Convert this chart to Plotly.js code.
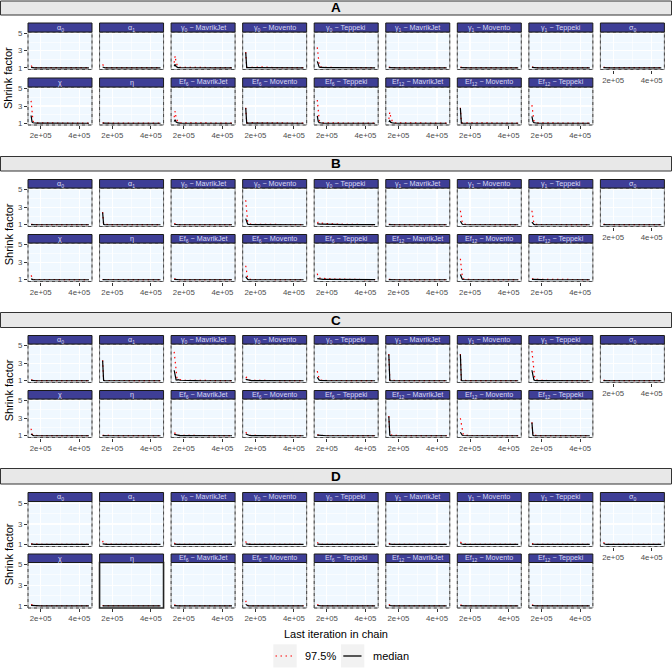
<!DOCTYPE html>
<html><head><meta charset="utf-8">
<script src="https://cdn.plot.ly/plotly-3.0.1.min.js"></script>
<style>html,body{margin:0;padding:0;background:#fff}</style>
</head><body><div id="chart" style="width:672px;height:672px"></div>
<script>
// ---------------- DATA ----------------
const iterations = [150000,155000,160000,165000,170000,180000,200000,230000,260000,290000,320000,350000,380000,410000,450000];
const panelLabels = ['α<sub>0</sub>','α<sub>1</sub>','γ<sub>0</sub> − MavrikJet','γ<sub>0</sub> − Movento','γ<sub>0</sub> − Teppeki',
  'γ<sub>1</sub> − MavrikJet','γ<sub>1</sub> − Movento','γ<sub>1</sub> − Teppeki','σ<sub>0</sub>',
  'χ','η','Ef<sub>6</sub> − MavrikJet','Ef<sub>6</sub> − Movento','Ef<sub>6</sub> − Teppeki',
  'Ef<sub>12</sub> − MavrikJet','Ef<sub>12</sub> − Movento','Ef<sub>12</sub> − Teppeki'];
const sectionLabels = ['A','B','C','D'];
const seriesNames = ['97.5%','median'];
const yTickValues = [1,3,5];
const xTickValues = [200000,400000];
const xTickLabels = ['2e+05','4e+05'];

const A_median = [
 [1.05,1.02,1.01,1,1,1,1,1,1,1,1,1,1,1,1],
 [1.1,1.03,1.01,1,1,1,1,1,1,1,1,1,1,1,1],
 [1.2,1.4,1.15,1.05,1.03,1.02,1.01,1.01,1,1,1,1,1,1,1],
 [2.8,1.02,1.01,1.01,1,1,1,1,1,1,1,1,1,1,1],
 [1.75,1.2,1.08,1.04,1.03,1.02,1.01,1.01,1,1,1,1,1,1,1],
 [1.02,1.01,1,1,1,1,1,1,1,1,1,1,1,1,1],
 [1.02,1.01,1,1,1,1,1,1,1,1,1,1,1,1,1],
 [1.04,1.02,1.01,1,1,1,1,1,1,1,1,1,1,1,1],
 [1.01,1,1,1,1,1,1,1,1,1,1,1,1,1,1],
 [1.9,1.15,1.06,1.03,1.02,1.01,1.01,1,1,1,1,1,1,1,1],
 [1.01,1,1,1,1,1,1,1,1,1,1,1,1,1,1],
 [1.2,1.4,1.15,1.06,1.04,1.02,1.01,1.01,1,1,1,1,1,1,1],
 [2.75,1.02,1.01,1.01,1,1,1,1,1,1,1,1,1,1,1],
 [1.85,1.2,1.08,1.04,1.03,1.02,1.01,1.01,1,1,1,1,1,1,1],
 [1.15,1.3,1.1,1.05,1.03,1.02,1.01,1.01,1,1,1,1,1,1,1],
 [2.75,1.02,1.01,1.01,1,1,1,1,1,1,1,1,1,1,1],
 [1.8,1.2,1.08,1.04,1.03,1.02,1.01,1.01,1,1,1,1,1,1,1]
];
const A_upper = [
 [1.25,1.08,1.04,1.03,1.03,1.02,1.02,1.02,1.02,1.02,1.02,1.02,1.02,1.03,1.02],
 [1.4,1.1,1.05,1.03,1.03,1.02,1.02,1.02,1.02,1.02,1.02,1.02,1.02,1.02,1.02],
 [1.6,2.4,1.6,1.2,1.1,1.06,1.05,1.04,1.03,1.03,1.02,1.02,1.02,1.02,1.02],
 [2.85,1.06,1.05,1.04,1.04,1.1,1.05,1.1,1.04,1.03,1.03,1.02,1.02,1.02,1.02],
 [3.4,2.1,1.3,1.12,1.08,1.05,1.04,1.03,1.03,1.03,1.02,1.02,1.02,1.02,1.02],
 [1.08,1.04,1.03,1.02,1.02,1.02,1.02,1.02,1.02,1.02,1.02,1.02,1.02,1.02,1.02],
 [1.08,1.04,1.03,1.02,1.02,1.02,1.02,1.02,1.02,1.02,1.02,1.02,1.02,1.02,1.02],
 [1.1,1.05,1.03,1.02,1.02,1.02,1.02,1.02,1.02,1.02,1.02,1.02,1.02,1.02,1.02],
 [1.05,1.03,1.03,1.02,1.02,1.02,1.02,1.02,1.02,1.02,1.02,1.02,1.02,1.02,1.02],
 [3.6,2.1,1.25,1.1,1.07,1.05,1.04,1.03,1.03,1.02,1.02,1.02,1.02,1.02,1.02],
 [1.05,1.03,1.03,1.02,1.02,1.02,1.02,1.02,1.02,1.02,1.02,1.02,1.02,1.02,1.02],
 [1.7,2.4,1.6,1.2,1.1,1.06,1.05,1.05,1.03,1.03,1.02,1.02,1.02,1.02,1.02],
 [2.8,1.06,1.05,1.04,1.04,1.08,1.06,1.05,1.04,1.03,1.03,1.02,1.02,1.02,1.02],
 [3.7,2.3,1.35,1.12,1.08,1.05,1.04,1.03,1.03,1.02,1.02,1.02,1.02,1.02,1.02],
 [1.5,2.3,1.7,1.2,1.1,1.06,1.05,1.04,1.03,1.03,1.02,1.02,1.02,1.02,1.02],
 [2.8,1.06,1.05,1.05,1.04,1.05,1.07,1.05,1.04,1.03,1.03,1.02,1.02,1.02,1.02],
 [3.1,1.8,1.3,1.12,1.08,1.05,1.04,1.03,1.03,1.02,1.02,1.02,1.02,1.02,1.02]
];
const B_median = [
 [1.01,1,1,1,1,1,1,1,1,1,1,1,1,1,1],
 [2.4,1.05,1.01,1,1,1,1,1,1,1,1,1,1,1,1],
 [1.06,1.03,1.02,1.01,1,1,1,1,1,1,1,1,1,1,1],
 [1.7,1.2,1.07,1.04,1.03,1.02,1.01,1.01,1,1,1,1,1,1,1],
 [1.1,1.12,1.1,1.08,1.06,1.05,1.04,1.03,1.02,1.02,1.01,1.01,1.01,1.01,1.01],
 [1.01,1,1,1,1,1,1,1,1,1,1,1,1,1,1],
 [1.4,1.12,1.05,1.03,1.02,1.01,1,1,1,1,1,1,1,1,1],
 [1.3,1.1,1.04,1.02,1.01,1,1,1,1,1,1,1,1,1,1],
 [1.01,1,1,1,1,1,1,1,1,1,1,1,1,1,1],
 [1.1,1.03,1.01,1,1,1,1,1,1,1,1,1,1,1,1],
 [1.01,1,1,1,1,1,1,1,1,1,1,1,1,1,1],
 [1.05,1.03,1.02,1.01,1,1,1,1,1,1,1,1,1,1,1],
 [1.35,1.1,1.04,1.02,1.01,1,1,1,1,1,1,1,1,1,1],
 [1.12,1.1,1.08,1.07,1.06,1.05,1.04,1.03,1.02,1.02,1.01,1.01,1.01,1.01,1.01],
 [1.01,1,1,1,1,1,1,1,1,1,1,1,1,1,1],
 [1.6,1.15,1.06,1.03,1.02,1.01,1,1,1,1,1,1,1,1,1],
 [1.05,1.04,1.03,1.02,1.02,1.01,1.01,1,1,1,1,1,1,1,1]
];
const B_upper = [
 [1.05,1.03,1.03,1.02,1.02,1.02,1.02,1.02,1.02,1.02,1.02,1.02,1.02,1.02,1.02],
 [2.45,1.08,1.04,1.03,1.02,1.02,1.02,1.02,1.02,1.02,1.02,1.02,1.02,1.02,1.02],
 [1.12,1.06,1.04,1.03,1.02,1.02,1.02,1.02,1.02,1.02,1.02,1.02,1.02,1.02,1.02],
 [3.8,2.4,1.3,1.12,1.08,1.05,1.04,1.03,1.03,1.02,1.02,1.02,1.02,1.02,1.02],
 [1.15,1.28,1.25,1.2,1.22,1.15,1.12,1.08,1.06,1.05,1.04,1.03,1.03,1.02,1.02],
 [1.05,1.03,1.03,1.02,1.02,1.02,1.02,1.02,1.02,1.02,1.02,1.02,1.02,1.02,1.02],
 [2.6,1.8,1.2,1.08,1.05,1.04,1.03,1.03,1.02,1.02,1.02,1.02,1.02,1.02,1.02],
 [2.6,1.7,1.15,1.06,1.04,1.03,1.03,1.02,1.02,1.02,1.02,1.02,1.02,1.02,1.02],
 [1.04,1.03,1.03,1.02,1.02,1.02,1.02,1.02,1.02,1.02,1.02,1.02,1.02,1.02,1.02],
 [1.5,1.15,1.05,1.03,1.03,1.02,1.02,1.02,1.02,1.02,1.02,1.02,1.02,1.02,1.02],
 [1.03,1.03,1.02,1.02,1.02,1.02,1.02,1.02,1.02,1.02,1.02,1.02,1.02,1.02,1.02],
 [1.1,1.05,1.04,1.03,1.02,1.02,1.02,1.02,1.02,1.02,1.02,1.02,1.02,1.02,1.02],
 [2.6,1.7,1.15,1.06,1.04,1.03,1.03,1.02,1.02,1.02,1.02,1.02,1.02,1.02,1.02],
 [1.7,1.25,1.2,1.18,1.2,1.15,1.12,1.08,1.06,1.05,1.04,1.03,1.03,1.02,1.02],
 [1.04,1.03,1.03,1.02,1.02,1.02,1.02,1.02,1.02,1.02,1.02,1.02,1.02,1.02,1.02],
 [3.4,2.2,1.3,1.1,1.06,1.04,1.03,1.03,1.02,1.02,1.02,1.02,1.02,1.02,1.02],
 [1.1,1.15,1.12,1.1,1.08,1.06,1.05,1.04,1.03,1.03,1.02,1.02,1.02,1.02,1.02]
];
const C_median = [
 [1.04,1.02,1.01,1,1,1,1,1,1,1,1,1,1,1,1],
 [3.3,1.03,1.01,1,1,1,1,1,1,1,1,1,1,1,1],
 [2.2,1.3,1.1,1.08,1.12,1.06,1.03,1.02,1.01,1,1,1,1,1,1],
 [1.15,1.12,1.08,1.05,1.03,1.02,1.01,1,1,1,1,1,1,1,1],
 [1.4,1.15,1.07,1.04,1.03,1.02,1.01,1,1,1,1,1,1,1,1],
 [4.0,1.03,1.01,1,1,1,1,1,1,1,1,1,1,1,1],
 [4.0,1.03,1.01,1,1,1,1,1,1,1,1,1,1,1,1],
 [2.2,1.3,1.1,1.05,1.03,1.02,1.01,1,1,1,1,1,1,1,1],
 [1.01,1,1,1,1,1,1,1,1,1,1,1,1,1,1],
 [1.2,1.06,1.03,1.02,1.01,1,1,1,1,1,1,1,1,1,1],
 [1.01,1,1,1,1,1,1,1,1,1,1,1,1,1,1],
 [1.15,1.12,1.08,1.05,1.03,1.02,1.01,1,1,1,1,1,1,1,1],
 [1.2,1.15,1.08,1.05,1.03,1.02,1.01,1,1,1,1,1,1,1,1],
 [1.06,1.05,1.04,1.03,1.02,1.01,1,1,1,1,1,1,1,1,1],
 [3.2,1.05,1.02,1.01,1,1,1,1,1,1,1,1,1,1,1],
 [1.4,1.12,1.05,1.03,1.02,1.01,1,1,1,1,1,1,1,1,1],
 [2.5,1.05,1.02,1.01,1,1,1,1,1,1,1,1,1,1,1]
];
const C_upper = [
 [1.1,1.05,1.03,1.03,1.02,1.02,1.02,1.02,1.02,1.02,1.02,1.02,1.02,1.02,1.02],
 [3.35,1.06,1.03,1.03,1.02,1.02,1.02,1.02,1.02,1.02,1.02,1.02,1.02,1.02,1.02],
 [4.3,3.0,1.5,1.2,1.22,1.12,1.06,1.04,1.03,1.02,1.02,1.02,1.02,1.02,1.02],
 [1.3,1.4,1.2,1.1,1.06,1.04,1.03,1.03,1.02,1.02,1.02,1.02,1.02,1.02,1.02],
 [2.1,1.5,1.2,1.1,1.06,1.04,1.03,1.03,1.02,1.02,1.02,1.02,1.02,1.02,1.02],
 [4.05,1.06,1.04,1.03,1.02,1.02,1.02,1.02,1.02,1.02,1.02,1.02,1.02,1.02,1.02],
 [4.05,1.06,1.04,1.03,1.02,1.02,1.02,1.02,1.02,1.02,1.02,1.02,1.02,1.02,1.02],
 [4.4,3.0,1.6,1.2,1.1,1.06,1.04,1.03,1.03,1.02,1.02,1.02,1.02,1.02,1.02],
 [1.04,1.03,1.03,1.02,1.02,1.02,1.02,1.02,1.02,1.02,1.02,1.02,1.02,1.02,1.02],
 [1.8,1.2,1.08,1.05,1.03,1.03,1.02,1.02,1.02,1.02,1.02,1.02,1.02,1.02,1.02],
 [1.05,1.04,1.05,1.03,1.04,1.05,1.03,1.02,1.02,1.02,1.02,1.02,1.02,1.02,1.02],
 [1.3,1.3,1.15,1.08,1.05,1.04,1.03,1.03,1.02,1.02,1.02,1.02,1.02,1.02,1.02],
 [1.4,1.3,1.12,1.06,1.04,1.03,1.03,1.02,1.02,1.02,1.02,1.02,1.02,1.02,1.02],
 [1.1,1.08,1.06,1.05,1.04,1.03,1.03,1.02,1.02,1.02,1.02,1.02,1.02,1.02,1.02],
 [3.25,1.08,1.05,1.1,1.04,1.03,1.03,1.02,1.02,1.02,1.02,1.02,1.02,1.02,1.02],
 [3.0,2.2,1.4,1.12,1.06,1.04,1.03,1.03,1.02,1.02,1.02,1.02,1.02,1.02,1.02],
 [2.55,1.08,1.04,1.03,1.02,1.02,1.02,1.02,1.02,1.02,1.02,1.02,1.02,1.02,1.02]
];
const D_median = [
 [1.03,1.01,1,1,1,1,1,1,1,1,1,1,1,1,1],
 [1.05,1.02,1.01,1,1,1,1,1,1,1,1,1,1,1,1],
 [1.04,1.02,1.01,1,1,1,1,1,1,1,1,1,1,1,1],
 [1.05,1.02,1.01,1,1,1,1,1,1,1,1,1,1,1,1],
 [1.04,1.02,1.01,1,1,1,1,1,1,1,1,1,1,1,1],
 [1.03,1.01,1,1,1,1,1,1,1,1,1,1,1,1,1],
 [1.1,1.04,1.02,1.01,1,1,1,1,1,1,1,1,1,1,1],
 [1.02,1.01,1,1,1,1,1,1,1,1,1,1,1,1,1],
 [1.1,1.04,1.02,1.01,1,1,1,1,1,1,1,1,1,1,1],
 [1.05,1.04,1.03,1.02,1.01,1,1,1,1,1,1,1,1,1,1],
 [1.01,1,1,1,1,1,1,1,1,1,1,1,1,1,1],
 [1.03,1.01,1,1,1,1,1,1,1,1,1,1,1,1,1],
 [1.15,1.04,1.02,1.01,1,1,1,1,1,1,1,1,1,1,1],
 [1.04,1.02,1.01,1,1,1,1,1,1,1,1,1,1,1,1],
 [1.04,1.02,1.01,1,1,1,1,1,1,1,1,1,1,1,1],
 [1.03,1.01,1,1,1,1,1,1,1,1,1,1,1,1,1],
 [1.04,1.02,1.01,1,1,1,1,1,1,1,1,1,1,1,1]
];
const D_upper = [
 [1.06,1.05,1.06,1.03,1.02,1.02,1.02,1.02,1.02,1.02,1.02,1.02,1.02,1.02,1.02],
 [1.35,1.08,1.04,1.03,1.02,1.02,1.02,1.02,1.02,1.02,1.02,1.02,1.02,1.02,1.02],
 [1.15,1.05,1.03,1.02,1.02,1.02,1.02,1.02,1.02,1.02,1.02,1.03,1.03,1.02,1.02],
 [1.3,1.06,1.03,1.02,1.02,1.02,1.02,1.02,1.02,1.02,1.02,1.02,1.02,1.02,1.02],
 [1.2,1.05,1.03,1.02,1.02,1.02,1.02,1.02,1.02,1.02,1.02,1.02,1.02,1.02,1.02],
 [1.1,1.04,1.03,1.02,1.02,1.02,1.02,1.02,1.02,1.02,1.02,1.02,1.02,1.02,1.02],
 [1.25,1.1,1.05,1.03,1.02,1.02,1.02,1.02,1.02,1.02,1.02,1.02,1.02,1.02,1.02],
 [1.08,1.04,1.03,1.02,1.02,1.02,1.02,1.02,1.02,1.02,1.02,1.02,1.02,1.02,1.02],
 [1.2,1.06,1.03,1.02,1.02,1.02,1.02,1.02,1.02,1.02,1.02,1.02,1.02,1.02,1.02],
 [1.12,1.1,1.08,1.05,1.03,1.02,1.02,1.02,1.02,1.02,1.02,1.02,1.02,1.02,1.02],
 [1.04,1.03,1.03,1.02,1.02,1.02,1.02,1.03,1.02,1.02,1.02,1.02,1.02,1.02,1.02],
 [1.1,1.04,1.03,1.02,1.02,1.02,1.02,1.02,1.02,1.03,1.02,1.02,1.02,1.02,1.02],
 [1.5,1.12,1.05,1.03,1.02,1.02,1.02,1.02,1.02,1.02,1.02,1.02,1.02,1.02,1.02],
 [1.15,1.05,1.03,1.02,1.02,1.02,1.02,1.02,1.02,1.02,1.02,1.02,1.02,1.02,1.02],
 [1.15,1.05,1.03,1.02,1.02,1.02,1.02,1.02,1.02,1.02,1.02,1.02,1.02,1.02,1.02],
 [1.1,1.04,1.03,1.02,1.02,1.02,1.02,1.02,1.02,1.02,1.02,1.02,1.02,1.02,1.02],
 [1.12,1.05,1.03,1.02,1.02,1.02,1.02,1.02,1.02,1.02,1.02,1.02,1.02,1.02,1.02]
];

// ---------------- LAYOUT GEOMETRY ----------------
const W = 672, H = 672;
const px = v => v / W;
const py = v => 1 - v / H;
const FONT = 'Liberation Sans, Arial, sans-serif';
const sections = [
  {label: sectionLabels[0], median: A_median, upper: A_upper, header: [1, 15],    rows: [[23, 32, 69.5], [78, 87, 125]]},
  {label: sectionLabels[1], median: B_median, upper: B_upper, header: [156.5, 171], rows: [[179.5, 188, 226.5], [234.5, 243, 281.5]]},
  {label: sectionLabels[2], median: C_median, upper: C_upper, header: [312.5, 327.5], rows: [[335.5, 344, 382.5], [390.5, 399, 437.5]]},
  {label: sectionLabels[3], median: D_median, upper: D_upper, header: [468.5, 484], rows: [[492.5, 501.5, 546.5], [554, 562.5, 608]]}
];

const traces = [], shapes = [], annotations = [];
const layout = {
  width: W, height: H, margin: {l: 0, r: 0, t: 0, b: 0},
  paper_bgcolor: '#ffffff', plot_bgcolor: '#F0F8FF',
  showlegend: false, font: {family: FONT, color: '#000'}
};

let n = 0;
sections.forEach((s, si) => {
  shapes.push({type: 'rect', xref: 'paper', yref: 'paper', x0: px(0.5), x1: px(671.5),
    y0: py(s.header[1]), y1: py(s.header[0]), fillcolor: '#E8E8E8', line: {color: '#333333', width: 1}, layer: 'below'});
  annotations.push({text: '<b>' + s.label + '</b>', xref: 'paper', yref: 'paper', x: px(336),
    y: py((s.header[0] + s.header[1]) / 2), showarrow: false, xanchor: 'center', yanchor: 'middle',
    font: {size: 13.5, color: '#000', family: FONT}});
  annotations.push({text: 'Shrink factor', xref: 'paper', yref: 'paper', x: px(8.5),
    y: py((s.rows[0][1] + s.rows[1][2]) / 2), textangle: -90, showarrow: false,
    xanchor: 'center', yanchor: 'middle', font: {size: 11, color: '#000', family: FONT}});

  panelLabels.forEach((lab, p) => {
    n++;
    const row = p < 9 ? 0 : 1;
    const col = p < 9 ? p : p - 9;
    const left = 28 + col * 71.55, right = left + 64;
    const [st, pt, pb] = s.rows[row];
    const xk = n === 1 ? 'x' : 'x' + n, yk = n === 1 ? 'y' : 'y' + n;
    const xKey = n === 1 ? 'xaxis' : 'xaxis' + n, yKey = n === 1 ? 'yaxis' : 'yaxis' + n;
    const showX = (row === 1) || (col === 8);
    const showY = col === 0;
    layout[xKey] = {
      domain: [px(left), px(right)], anchor: yk, range: [134000, 466000],
      tickmode: 'array', tickvals: xTickValues, ticktext: xTickLabels,
      showticklabels: showX, ticks: showX ? 'outside' : '', ticklen: 3, tickwidth: 1, tickcolor: '#333333',
      tickfont: {size: 7.8, color: '#4D4D4D', family: FONT},
      showgrid: true, gridcolor: '#ffffff', gridwidth: 1.1, zeroline: false, showline: false,
      minor: {tickmode: 'array', tickvals: [300000], showgrid: true, gridcolor: '#ffffff', gridwidth: 0.6, ticks: ''},
      fixedrange: true
    };
    layout[yKey] = {
      domain: [py(pb), py(pt)], anchor: xk, range: [0.8, 5.2],
      tickmode: 'array', tickvals: yTickValues, ticktext: yTickValues.map(String),
      showticklabels: showY, ticks: showY ? 'outside' : '', ticklen: 3, tickwidth: 1, tickcolor: '#333333',
      tickfont: {size: 7.8, color: '#4D4D4D', family: FONT},
      showgrid: true, gridcolor: '#ffffff', gridwidth: 1.1, zeroline: false, showline: false,
      minor: {tickmode: 'array', tickvals: [2, 4], showgrid: true, gridcolor: '#ffffff', gridwidth: 0.6, ticks: ''},
      fixedrange: true
    };
    // 97.5% (drawn first) and median (on top)
    traces.push({type: 'scatter', mode: 'lines', x: iterations, y: s.upper[p], xaxis: xk, yaxis: yk,
      name: seriesNames[0], line: {color: '#FF0000', width: 1.2, dash: '1.5px,3.5px'}, hoverinfo: 'skip'});
    traces.push({type: 'scatter', mode: 'lines', x: iterations, y: s.median[p], xaxis: xk, yaxis: yk,
      name: seriesNames[1], line: {color: '#000000', width: 1.2}, hoverinfo: 'skip'});
    // panel border
    const darkBorder = (si === 3 && p === 10);
    shapes.push({type: 'rect', xref: 'paper', yref: 'paper', x0: px(left), x1: px(right), y0: py(pb), y1: py(pt),
      line: {color: darkBorder ? '#222222' : '#9a9a9a', width: darkBorder ? 1.6 : 1}, fillcolor: 'rgba(0,0,0,0)', layer: 'above'});
    if (!darkBorder) {
      shapes.push({type: 'rect', xref: 'paper', yref: 'paper', x0: px(left), x1: px(right), y0: py(pb), y1: py(pt),
        line: {color: '#4a4a4a', width: 1, dash: '3px,3px'}, fillcolor: 'rgba(0,0,0,0)', layer: 'above'});
    }
    // strip
    shapes.push({type: 'rect', xref: 'paper', yref: 'paper', x0: px(left), x1: px(right), y0: py(pt), y1: py(st),
      fillcolor: '#3E3E96', line: {color: '#1a1a1a', width: 1}, layer: 'above'});
    annotations.push({text: lab, xref: 'paper', yref: 'paper', x: px((left + right) / 2), y: py((st + pt) / 2),
      showarrow: false, xanchor: 'center', yanchor: 'middle', font: {size: 7.2, color: '#D9D9F3', family: FONT}});
  });
});

// x-axis title
annotations.push({text: 'Last iteration in chain', xref: 'paper', yref: 'paper', x: px(336), y: py(633.5),
  showarrow: false, xanchor: 'center', yanchor: 'middle', font: {size: 11, color: '#000', family: FONT}});
// legend (keys)
shapes.push({type: 'rect', xref: 'paper', yref: 'paper', x0: px(273.3), x1: px(296.7), y0: py(667.5), y1: py(644.3),
  fillcolor: '#F2F2F2', line: {width: 0}});
shapes.push({type: 'line', xref: 'paper', yref: 'paper', x0: px(275.5), x1: px(295), y0: py(656), y1: py(656),
  line: {color: '#FF0000', width: 1.2, dash: '1.5px,3.5px'}});
annotations.push({text: seriesNames[0], xref: 'paper', yref: 'paper', x: px(302.5), y: py(656),
  showarrow: false, xanchor: 'left', yanchor: 'middle', font: {size: 11, color: '#000', family: FONT}});
shapes.push({type: 'rect', xref: 'paper', yref: 'paper', x0: px(341), x1: px(364.3), y0: py(667.5), y1: py(644.3),
  fillcolor: '#F2F2F2', line: {width: 0}});
shapes.push({type: 'line', xref: 'paper', yref: 'paper', x0: px(343.3), x1: px(361.5), y0: py(656), y1: py(656),
  line: {color: '#000000', width: 1.3}});
annotations.push({text: seriesNames[1], xref: 'paper', yref: 'paper', x: px(370.5), y: py(656),
  showarrow: false, xanchor: 'left', yanchor: 'middle', font: {size: 11, color: '#000', family: FONT}});

layout.shapes = shapes;
layout.annotations = annotations;
Plotly.newPlot('chart', traces, layout, {staticPlot: true, displayModeBar: false});
</script>
</body></html>
